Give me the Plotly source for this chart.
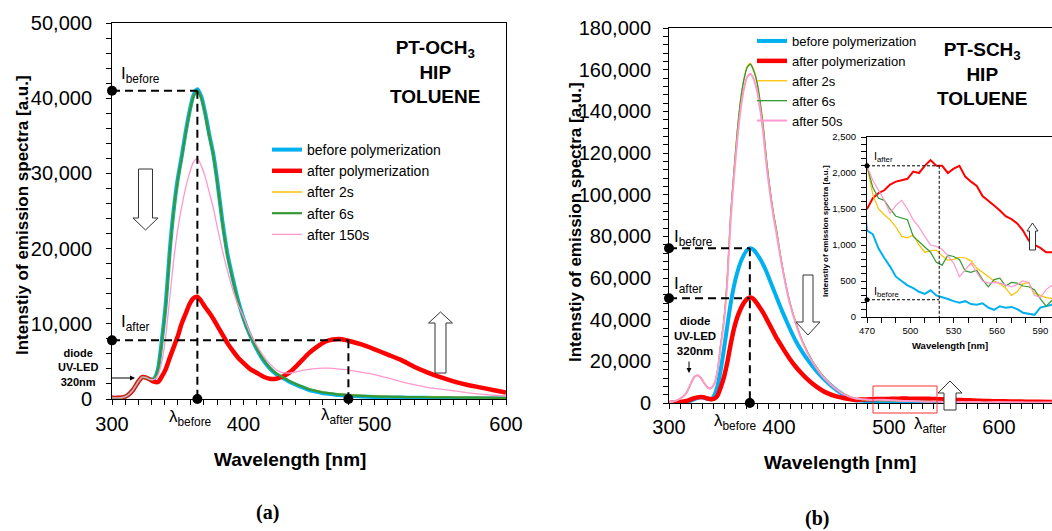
import plotly.graph_objects as go

W, H = 1052, 531
FONT = "Liberation Sans, Arial, sans-serif"

# ---------------- Panel (a): PT-OCH3 ----------------
wl_a = [300, 304, 308, 312, 316, 320, 323, 326, 329, 332, 335, 338, 341, 344, 347, 350, 353, 356, 359, 362, 365,
        368, 371, 374, 377, 380, 384, 388, 392, 396, 400, 405, 410, 415, 420, 425, 430, 435, 440, 445, 450, 455,
        460, 465, 470, 475, 480, 490, 500, 510, 520, 530, 540, 550, 560, 570, 580, 590, 600]
a_before = [150, 150, 200, 500, 1200, 2300, 2900, 2850, 2600, 2700, 4000, 7900, 12800, 19800, 25200, 29200, 32200,
            35400, 38200, 40400, 41200, 40200, 38000, 35200, 32700, 29200, 23700, 19200, 16000, 13100, 10800, 8500,
            6700, 5200, 4100, 3300, 2800, 2300, 1900, 1550, 1200, 1000, 800, 680, 570, 500, 440, 340, 260, 220, 190,
            170, 150, 130, 120, 110, 100, 100, 100]
a_after = [150, 150, 200, 500, 1200, 2300, 2900, 2850, 2600, 2300, 2250, 3000, 4000, 5500, 6900, 8300, 10000, 11300,
           12600, 13400, 13600, 13000, 12200, 11500, 10700, 9800, 8600, 7400, 6400, 5500, 4800, 4000, 3500, 3000,
           2700, 2700, 3000, 3500, 4300, 5200, 6100, 6800, 7400, 7800, 7950, 7950, 7750, 7250, 6600, 5900, 5200,
           4300, 3550, 2900, 2350, 1900, 1550, 1200, 850]
a_2s = [150, 150, 200, 500, 1200, 2300, 2900, 2850, 2600, 2700, 4000, 7700, 12500, 19500, 25000, 29000, 32000, 35200,
        38000, 40200, 41000, 40000, 37800, 35000, 32500, 29000, 23500, 19000, 15800, 13000, 10700, 8500, 6800, 5300,
        4200, 3400, 2900, 2400, 2000, 1650, 1350, 1150, 950, 820, 700, 630, 570, 470, 390, 340, 310, 290, 270, 250,
        230, 210, 200, 190, 180]
a_6s = [150, 150, 200, 500, 1200, 2300, 2900, 2850, 2600, 2700, 4000, 7700, 12500, 19500, 25000, 29000, 32000, 35200,
        38000, 40200, 41000, 40000, 37800, 35000, 32500, 29000, 23500, 19000, 15800, 13000, 10700, 8500, 6800, 5300,
        4200, 3400, 2900, 2400, 2000, 1650, 1300, 1100, 900, 770, 650, 580, 520, 420, 340, 300, 270, 250, 230, 210,
        200, 180, 170, 160, 150]
a_150s = [150, 150, 200, 500, 1200, 2300, 2900, 2850, 2600, 2600, 3200, 5000, 8500, 13500, 18500, 22500, 25500,
          28000, 30000, 31500, 32000, 31000, 29500, 27500, 25500, 23000, 19800, 17000, 14500, 12500, 11000, 8800,
          7200, 5800, 4700, 3900, 3500, 3450, 3600, 3800, 3950, 4050, 4100, 4100, 4050, 3950, 3850, 3550, 3250,
          2800, 2300, 1900, 1550, 1300, 1100, 850, 650, 500, 400]
a_lam_before, a_I_before = 365, 41000
a_lam_after, a_I_after = 480, 7800

# ---------------- Panel (b): PT-SCH3 ----------------
wl_b_main = [300, 304, 308, 312, 316, 320, 323, 326, 329, 332, 335, 338, 341, 344, 347, 350, 353, 356, 359, 362, 365,
             368, 371, 374, 377, 380, 383, 386, 389, 392, 395, 398, 401, 405, 410, 415, 420, 425, 430, 435, 440,
             445, 450, 455, 460, 465]
wl_b_zoom = [470, 474, 478, 482, 486, 490, 494, 498, 502, 506, 510, 514, 518, 522, 526, 530, 534, 538, 542, 546,
             550, 554, 558, 562, 566, 570, 574, 578, 582, 586, 590, 594, 598]
wl_b_tail = [605, 615, 625, 635, 648]

b_before_main = [0, 100, 200, 400, 700, 1200, 1900, 2500, 2800, 2500, 2000, 1800, 3500, 8000, 16000, 26000, 37000,
                 47500, 56000, 62500, 67500, 71000, 73500, 74300, 73500, 71500, 69000, 66000, 62500, 58500, 54500,
                 50500, 46500, 41500, 35500, 30000, 25500, 21500, 18000, 14800, 12000, 9500, 7200, 5200, 3500, 2200]
b_after_main = [0, 100, 300, 600, 1000, 1700, 2300, 2700, 2900, 2700, 2200, 1800, 2000, 3500, 7500, 12500, 19500,
                28000, 35500, 41000, 45000, 48000, 50000, 50600, 49800, 47800, 45500, 43000, 40000, 37000, 34000,
                31000, 28500, 25000, 21000, 17500, 14500, 11800, 9500, 7500, 5800, 4500, 3500, 2800, 2300, 1800]
b_2s_main = [300, 700, 1500, 2800, 5000, 9500, 12500, 13300, 12000, 9500, 7500, 7000, 9000, 15000, 28000, 40000,
             60000, 90000, 111000, 130000, 145000, 155000, 161500, 163000, 160000, 154000, 144000, 131000, 115000,
             102000, 91000, 82000, 72000, 60000, 48000, 39000, 31500, 25500, 20500, 16500, 13000, 10000, 7600, 5600,
             4000, 2900]
b_6s_main = [300, 700, 1500, 2800, 5000, 9500, 12500, 13300, 12000, 9500, 7500, 7000, 9000, 15000, 28000, 40000,
             60000, 90000, 111000, 130000, 145000, 155000, 161000, 162600, 159500, 154000, 144000, 131000, 115000,
             102000, 91000, 82000, 72000, 60000, 48000, 39000, 31500, 25500, 20500, 16500, 13000, 10000, 7600, 5600,
             4000, 2900]
b_50s_main = [300, 700, 1500, 2800, 5000, 9500, 12500, 13300, 12000, 9500, 7500, 7000, 9000, 15000, 27500, 39000,
              58500, 87500, 108000, 126000, 140500, 150500, 156500, 158000, 155500, 150000, 140500, 128000, 112500,
              100000, 89500, 80500, 71000, 59500, 47500, 38500, 31000, 25000, 20000, 16000, 12600, 9800, 7400, 5500,
              4000, 2900]

b_before_zoom = [1200, 1150, 950, 820, 700, 560, 500, 440, 400, 350, 320, 370, 300, 280, 250, 220, 200, 220, 180,
                 170, 190, 130, 100, 150, 130, 140, 110, 60, 50, 30, 130, 150, 170]
b_after_zoom = [1500, 1650, 1720, 1760, 1840, 1880, 1900, 1920, 2020, 2000, 2100, 2180, 2100, 2100, 2000, 2060,
                2100, 1950, 1880, 1820, 1680, 1620, 1550, 1480, 1400, 1360, 1300, 1200, 1060, 1000, 960, 900, 900]
b_2s_zoom = [2100, 1700, 1500, 1420, 1350, 1250, 1120, 1100, 1140, 1000, 900, 920, 930, 850, 790, 800, 830, 820,
             780, 680, 620, 560, 500, 460, 400, 300, 350, 460, 480, 330, 300, 270, 260]
b_6s_zoom = [2100, 1800, 1650, 1620, 1500, 1400, 1370, 1350, 1120, 1050, 980, 900, 760, 720, 860, 840, 800, 640,
             620, 650, 520, 420, 520, 540, 430, 480, 470, 430, 420, 380, 250, 150, 230]
b_50s_zoom = [2100, 1900, 1750, 1620, 1440, 1550, 1620, 1500, 1350, 1250, 1120, 1000, 980, 940, 850, 750, 560, 650,
              750, 620, 500, 470, 480, 470, 440, 420, 450, 500, 480, 300, 270, 380, 440]

b_before_tail = [150, 120, 100, 80, 60]
b_after_tail = [820, 720, 640, 560, 480]
b_2s_tail = [250, 220, 190, 160, 130]
b_6s_tail = [220, 200, 170, 150, 120]
b_50s_tail = [400, 340, 290, 240, 200]

wl_b = wl_b_main + wl_b_zoom + wl_b_tail
b_before = b_before_main + b_before_zoom + b_before_tail
b_after = b_after_main + b_after_zoom + b_after_tail
b_2s = b_2s_main + b_2s_zoom + b_2s_tail
b_6s = b_6s_main + b_6s_zoom + b_6s_tail
b_50s = b_50s_main + b_50s_zoom + b_50s_tail

b_lam, b_I_before, b_I_after = 373.5, 74300, 50300
ins_lam, ins_I_after, ins_I_before = 520, 2100, 240

CYAN, RED, ORANGE, GREEN, PINK = "#00B0F0", "#FF0000", "#FFC000", "#339933", "#FF99CC"


def px(x):
    return x / W


def py(y):
    return 1 - y / H


fig = go.Figure()

# panel (a) traces
series_a = [("before polymerization", a_before, CYAN, 4),
            ("after polymerization", a_after, RED, 4.5),
            ("after 2s", a_2s, ORANGE, 1.5),
            ("after 6s", a_6s, GREEN, 2.2),
            ("after 150s", a_150s, PINK, 1.3)]
for name, ys, col, w in series_a:
    fig.add_trace(go.Scatter(x=wl_a, y=ys, name=name, mode="lines",
                             line=dict(color=col, width=w, shape="spline", smoothing=0.6),
                             xaxis="x", yaxis="y", legend="legend"))

# panel (b) traces + inset
series_b = [("before polymerization", b_before, CYAN, 4, 2),
            ("after polymerization", b_after, RED, 4.5, 2),
            ("after 2s", b_2s, ORANGE, 1.3, 1.2),
            ("after 6s", b_6s, GREEN, 1.3, 1.2),
            ("after 50s", b_50s, PINK, 2, 1.2)]
for name, ys, col, w, wi in series_b:
    fig.add_trace(go.Scatter(x=wl_b, y=ys, name=name, mode="lines",
                             line=dict(color=col, width=w, shape="spline", smoothing=0.6),
                             xaxis="x2", yaxis="y2", legend="legend2"))
for name, ys, col, w, wi in series_b:
    fig.add_trace(go.Scatter(x=wl_b, y=ys, name=name, mode="lines", showlegend=False,
                             line=dict(color=col, width=wi),
                             xaxis="x3", yaxis="y3"))

# marker dots
fig.add_trace(go.Scatter(x=[300, a_lam_before, 300, a_lam_after], y=[a_I_before, 0, a_I_after, 0],
                         mode="markers", marker=dict(color="black", size=10), cliponaxis=False,
                         showlegend=False, xaxis="x", yaxis="y"))
fig.add_trace(go.Scatter(x=[300, b_lam, 300], y=[b_I_before, 0, b_I_after],
                         mode="markers", marker=dict(color="black", size=10), cliponaxis=False,
                         showlegend=False, xaxis="x2", yaxis="y2"))
fig.add_trace(go.Scatter(x=[470, 470], y=[ins_I_after, ins_I_before],
                         mode="markers", marker=dict(color="black", size=5), cliponaxis=False,
                         showlegend=False, xaxis="x3", yaxis="y3"))

shapes = []


def dline(xr, yr, x0, y0, x1, y1, w=2, dash="8px,5px"):
    shapes.append(dict(type="line", xref=xr, yref=yr, x0=x0, y0=y0, x1=x1, y1=y1,
                       line=dict(color="black", width=w, dash=dash)))


dline("x", "y", 300, a_I_before, a_lam_before, a_I_before)
dline("x", "y", a_lam_before, a_I_before, a_lam_before, 0)
dline("x", "y", 300, a_I_after, a_lam_after, a_I_after)
dline("x", "y", a_lam_after, a_I_after, a_lam_after, 0)
dline("x2", "y2", 300, b_I_before, b_lam, b_I_before)
dline("x2", "y2", b_lam, b_I_before, b_lam, 0)
dline("x2", "y2", 300, b_I_after, b_lam, b_I_after)
dline("x3", "y3", 470, ins_I_after, ins_lam, ins_I_after, w=1, dash="3px,2px")
dline("x3", "y3", ins_lam, ins_I_after, ins_lam, 0, w=1, dash="3px,2px")
dline("x3", "y3", 470, ins_I_before, ins_lam, ins_I_before, w=1, dash="3px,2px")


def hollow(points, lw=1):
    d = "M " + " L ".join(f"{px(x):.5f},{py(y):.5f}" for x, y in points) + " Z"
    shapes.append(dict(type="path", xref="paper", yref="paper", path=d, fillcolor="white",
                       line=dict(color="#333333", width=lw)))


def v_arrow(cx, base, headbase, tip, shaft_hw, head_hw):
    hollow([(cx - shaft_hw, base), (cx + shaft_hw, base), (cx + shaft_hw, headbase), (cx + head_hw, headbase),
            (cx, tip), (cx - head_hw, headbase), (cx - shaft_hw, headbase)])


v_arrow(145.5, 169, 218, 230, 7, 12.5)
v_arrow(440.5, 373, 323, 312, 5.5, 12)
v_arrow(808, 275, 322, 335, 5, 12)
v_arrow(950, 410, 393, 381, 6, 12)
v_arrow(1032.5, 250, 231, 223, 3, 5.5)

# red zoom rectangle
shapes.append(dict(type="rect", xref="paper", yref="paper", x0=px(873), x1=px(937), y0=py(413), y1=py(386),
                   line=dict(color="#FF3030", width=1)))

annotations = []


def txt(x, y, text, size=17, xanchor="center", yanchor="middle", angle=0, family=FONT):
    annotations.append(dict(x=px(x), y=py(y), xref="paper", yref="paper", text=text, showarrow=False,
                            xanchor=xanchor, yanchor=yanchor, textangle=angle,
                            font=dict(family=family, size=size, color="black")))


# panel (a) texts
txt(22, 215, "<b>Intenstiy of emission spectra [a.u.]</b>", 17, angle=-90)
txt(290, 459, "<b>Wavelength [nm]</b>", 19)
txt(435, 72, "<b>PT-OCH<sub>3</sub><br>HIP<br>TOLUENE</b>", 19)
txt(119, 75, "I<sub>before</sub>", 17, xanchor="left")
txt(119, 323, "I<sub>after</sub>", 17, xanchor="left")
txt(190, 418, "λ<sub>before</sub>", 17)
txt(337, 416, "λ<sub>after</sub>", 17)
txt(78, 367, "<b>diode<br>UV-LED<br>320nm</b>", 11)
txt(267, 512, "<b>(a)</b>", 20, family="Liberation Serif, Times New Roman, serif")

# panel (b) texts
txt(576, 222, "<b>Intenstiy of emission spectra [a.u.]</b>", 17, angle=-90)
txt(840, 462, "<b>Wavelength [nm]</b>", 19)
txt(982, 74, "<b>PT-SCH<sub>3</sub><br>HIP<br>TOLUENE</b>", 19)
txt(672, 238, "I<sub>before</sub>", 17, xanchor="left")
txt(672, 285, "I<sub>after</sub>", 17, xanchor="left")
txt(735, 422, "λ<sub>before</sub>", 17)
txt(930, 425, "λ<sub>after</sub>", 17)
txt(695, 336, "<b>diode<br>UV-LED<br>320nm</b>", 11.5)
txt(817, 518, "<b>(b)</b>", 20, family="Liberation Serif, Times New Roman, serif")

# inset texts
txt(825, 231, "<b>Intenstiy of emission spectra [a.u.]</b>", 8, angle=-90)
txt(950, 345, "<b>Wavelength [nm]</b>", 9.5)
txt(872, 157, "I<sub>after</sub>", 11, xanchor="left")
txt(872, 292, "I<sub>before</sub>", 11, xanchor="left")

# small black arrows for diode
annotations.append(dict(x=px(135), y=py(378), xref="paper", yref="paper", text="", showarrow=True,
                        ax=-25, ay=0, arrowhead=2, arrowsize=1, arrowwidth=1, arrowcolor="black"))
annotations.append(dict(x=px(689), y=py(373), xref="paper", yref="paper", text="", showarrow=True,
                        ax=0, ay=-13, arrowhead=2, arrowsize=1, arrowwidth=1, arrowcolor="black"))


def ax_(domain, rng, dtick, minor, size, standoff, tick0=None):
    d = dict(domain=domain, range=rng, dtick=dtick, showgrid=False, zeroline=False, showline=True,
             linecolor="black", linewidth=1, mirror=True, ticks="outside", ticklen=5, tickcolor="black",
             tickfont=dict(family=FONT, size=size, color="black"), ticklabelstandoff=standoff,
             automargin=False,
             minor=dict(dtick=minor, ticks="outside", ticklen=5, tickcolor="black", showgrid=False))
    if tick0 is not None:
        d["tick0"] = tick0
    return d


layout = dict(
    width=W, height=H, autosize=False, margin=dict(l=0, r=0, t=0, b=0, pad=0, autoexpand=False),
    paper_bgcolor="white", plot_bgcolor="white",
    xaxis=ax_([px(112), px(506)], [300, 600], 100, 10, 20, 2),
    yaxis=dict(**ax_([py(399), py(23)], [0, 50000], 10000, 2000, 20, 10), tickformat=",d"),
    xaxis2=ax_([px(669), 1.0], [300, 300 + (W - 669) / 1.1], 100, 10, 20, 1),
    yaxis2=dict(**ax_([py(403), py(28)], [0, 180000], 20000, 4000, 20, 8), tickformat=",d"),
    xaxis3=ax_([px(867), 1.0], [470, 470 + (W - 867) / 43.33 * 30], 30, 10, 9.5, 0, tick0=470),
    yaxis3=dict(**ax_([py(317), py(137)], [0, 2500], 500, 100, 9.5, 3), tickformat=",d"),
    legend=dict(x=px(267), y=py(134), xanchor="left", yanchor="top", bgcolor="rgba(0,0,0,0)",
                font=dict(family=FONT, size=14, color="black"), tracegroupgap=0),
    legend2=dict(x=px(752), y=py(26), xanchor="left", yanchor="top", bgcolor="rgba(0,0,0,0)",
                 font=dict(family=FONT, size=13, color="black"), tracegroupgap=0),
    shapes=shapes, annotations=annotations, showlegend=True,
)
layout["xaxis"]["anchor"] = "y"
layout["yaxis"]["anchor"] = "x"
layout["xaxis2"]["anchor"] = "y2"
layout["yaxis2"]["anchor"] = "x2"
layout["xaxis3"]["anchor"] = "y3"
layout["yaxis3"]["anchor"] = "x3"
fig.update_layout(layout)

fig.write_html("out.html", config={"displayModeBar": False},
               post_script="document.body.style.margin='0';document.body.style.overflow='hidden';")
